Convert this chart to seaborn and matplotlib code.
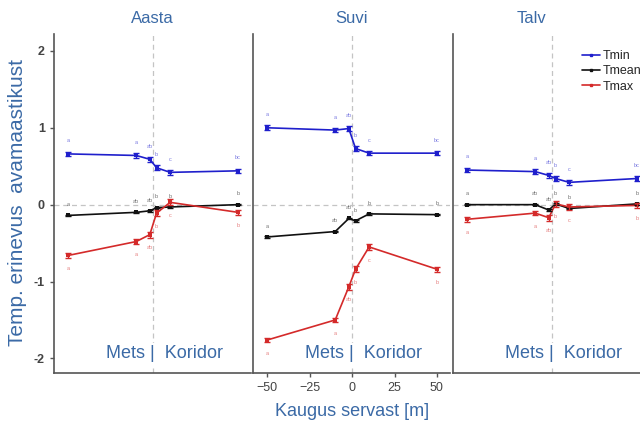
import numpy as np
import pandas as pd
import matplotlib
matplotlib.use('Agg')
import matplotlib.pyplot as plt
from matplotlib.lines import Line2D
import seaborn as sns

# distance from forest edge [m]
distance = [-50, -10, -2, 2, 10, 50]
seasons = ['Aasta', 'Suvi', 'Talv']
variables = ['Tmin', 'Tmean', 'Tmax']

# temperature differences vs open landscape
tmin = {
    'Aasta': [0.66, 0.64, 0.59, 0.48, 0.42, 0.44],
    'Suvi':  [1.00, 0.97, 0.99, 0.73, 0.67, 0.67],
    'Talv':  [0.45, 0.43, 0.38, 0.34, 0.29, 0.34],
}
tmean = {
    'Aasta': [-0.14, -0.10, -0.08, -0.04, -0.03, 0.00],
    'Suvi':  [-0.42, -0.35, -0.18, -0.21, -0.12, -0.13],
    'Talv':  [0.00, 0.00, -0.07, 0.01, -0.05, 0.01],
}
tmax = {
    'Aasta': [-0.66, -0.48, -0.39, -0.11, 0.03, -0.10],
    'Suvi':  [-1.76, -1.50, -1.07, -0.84, -0.55, -0.84],
    'Talv':  [-0.19, -0.11, -0.17, 0.01, -0.03, -0.01],
}
# standard errors
err = {
    'Tmin':  [0.03, 0.03, 0.03, 0.03, 0.03, 0.03],
    'Tmean': [0.01, 0.01, 0.01, 0.01, 0.01, 0.01],
    'Tmax':  [0.03, 0.03, 0.04, 0.04, 0.04, 0.03],
}
# group letters (tiny annotations)
letters = {
    'Tmin':  ['a', 'a', 'ab', 'b', 'c', 'bc'],
    'Tmean': ['a', 'ab', 'ab', 'b', 'b', 'b'],
    'Tmax':  ['a', 'a', 'ab', 'b', 'c', 'b'],
}

rows = []
for s in seasons:
    for var, src in zip(variables, [tmin, tmean, tmax]):
        for d, v, e in zip(distance, src[s], err[var]):
            rows.append({'season': s, 'var': var, 'x': d, 'y': v, 'err': e})
df = pd.DataFrame(rows)

palette = {'Tmin': '#1f1fcc', 'Tmean': '#111111', 'Tmax': '#d42a2a'}
label_off = {'Tmin': 0.17, 'Tmean': 0.14, 'Tmax': -0.17}
txt_blue = '#3b6aa6'

sns.set_style('white')
plt.rcParams['font.family'] = ['Liberation Sans', 'DejaVu Sans']

fig = plt.figure(figsize=(6.4, 4.26), dpi=100)
lefts = [54, 253, 453]
axes = []
for i, s in enumerate(seasons):
    ax = fig.add_axes([lefts[i] / 640, 53 / 426, 197 / 640, 339 / 426])
    axes.append(ax)
    sub = df[df['season'] == s]
    ax.axhline(0, color='#c4c4c4', ls=(0, (4, 3)), lw=0.9, zorder=0)
    ax.axvline(0, color='#c4c4c4', ls=(0, (4, 3)), lw=0.9, zorder=0)
    sns.lineplot(data=sub, x='x', y='y', hue='var', palette=palette,
                 marker='s', markersize=3.2, markeredgewidth=0, lw=1.2,
                 legend=False, ax=ax, errorbar=None)
    for var in variables:
        d = sub[sub['var'] == var]
        ax.errorbar(d['x'], d['y'], yerr=d['err'], fmt='none',
                    ecolor=palette[var], elinewidth=1.0, capsize=2.0, capthick=1.0)
        for xx, yy, lab in zip(d['x'], d['y'], letters[var]):
            ax.text(xx, yy + label_off[var], lab, fontsize=4,
                    color=palette[var], alpha=0.6, ha='center', va='center')
    ax.text(6.5, -2.0, 'Mets |  Koridor', fontsize=13, color=txt_blue,
            ha='center', va='baseline',
            bbox=dict(facecolor='white', edgecolor='none', pad=1.5))
    ax.set_xlim(-58.5, 57.7)
    ax.set_ylim(-2.19, 2.22)
    ax.set_xlabel('')
    ax.set_ylabel('')
    for sp in ['top', 'right']:
        ax.spines[sp].set_visible(False)
    for sp in ['left', 'bottom']:
        ax.spines[sp].set_color('#555555')
        ax.spines[sp].set_linewidth(1.2)
    ax.tick_params(colors='#555555', labelcolor='#444444', length=3, width=1,
                   labelsize=9)
    if i == 0:
        ax.set_yticks([-2, -1, 0, 1, 2])
        ax.set_yticklabels(['-2', '-1', '0', '1', '2'], fontweight='bold')
        ax.tick_params(axis='y', left=True)
        ax.set_xticks([])
    else:
        ax.set_yticks([])
    if i == 1:
        ax.set_xticks([-50, -25, 0, 25, 50])
        ax.set_xticklabels(['\u221250', '\u221225', '0', '25', '50'])
        ax.tick_params(axis='x', bottom=True)
    elif i == 2:
        ax.set_xticks([])

axes[0].set_title('Aasta', color=txt_blue, fontsize=12, pad=8)
axes[1].set_title('Suvi', color=txt_blue, fontsize=12, pad=8)
axes[2].set_title('Talv', color=txt_blue, fontsize=12, pad=8, x=0.40)

handles = [Line2D([0], [0], color=palette[v], lw=1.2, marker='s', markersize=2)
           for v in variables]
axes[2].legend(handles, variables, loc='upper left', bbox_to_anchor=(0.60, 0.985),
               frameon=False, fontsize=9, handlelength=1.4, handletextpad=0.2,
               labelspacing=0.25)

fig.text(18 / 640, 1 - 202 / 426, 'Temp. erinevus  avamaastikust', rotation=90,
         color=txt_blue, fontsize=15, ha='center', va='center')
fig.text(352 / 640, 1 - 412 / 426, 'Kaugus servast [m]', color=txt_blue,
         fontsize=13, ha='center', va='center')

fig.savefig('out.png', dpi=100)
